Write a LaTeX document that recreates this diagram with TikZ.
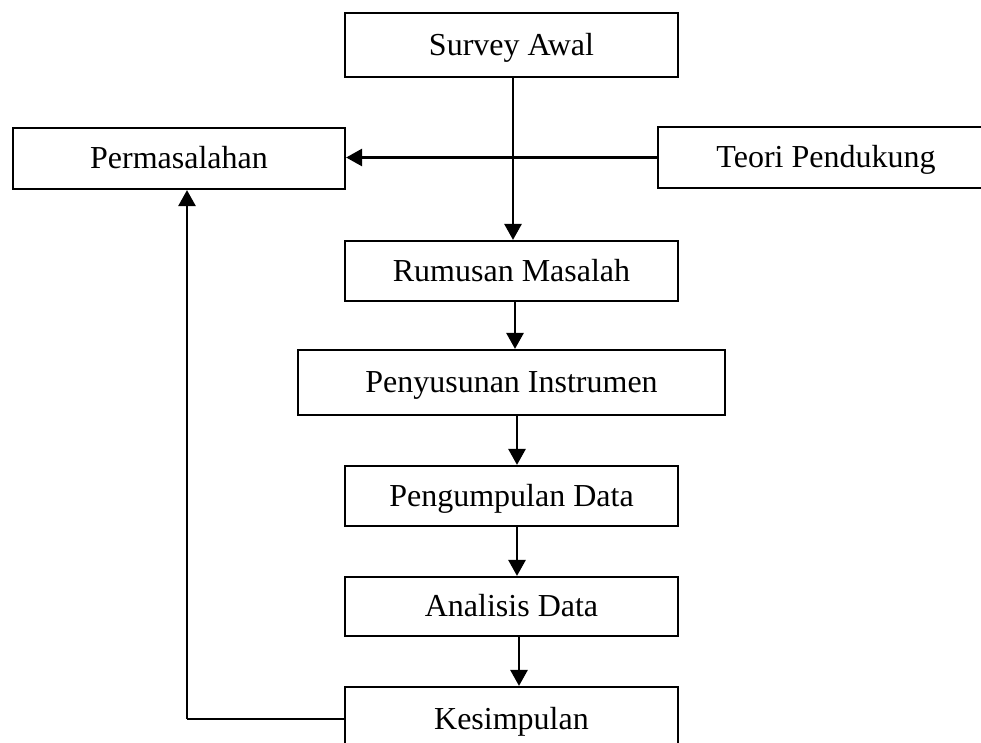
\documentclass[tikz,border=0pt]{standalone}
\usepackage{fontspec}
\setmainfont{Liberation Serif}
\usetikzlibrary{arrows.meta}
\begin{document}
\begin{tikzpicture}[x=1pt,y=-1pt,
  box/.style={draw=black, line width=2.2pt, inner sep=0pt, minimum width=333pt,
    text height=22pt, text depth=2pt,
    font=\fontsize{32}{38}\selectfont, text=black},
  conn/.style={line width=2.8pt, -{Triangle[width=17pt,length=16pt]}},
  plain/.style={line width=2.8pt}]
\useasboundingbox (0,0) rectangle (981,742);
\clip (0,0) rectangle (981,742);
\node[box, minimum height=64pt] (sa) at (511.5,45) {Survey Awal};
\node[box, minimum width=332pt, minimum height=61pt] (perm) at (179,158.5) {Permasalahan};
\node[box, minimum width=336pt, minimum height=61pt] (teori) at (826,157.5) {Teori Pendukung};
\node[box, minimum height=60pt] (rum) at (511.5,271) {Rumusan Masalah};
\node[box, minimum width=427pt, minimum height=65pt] (pen) at (511.5,382.5) {Penyusunan Instrumen};
\node[box, minimum height=60pt] (peng) at (511.5,496) {Pengumpulan Data};
\node[box, minimum height=59pt] (ana) at (511.5,606.5) {Analisis Data};
\node[box, minimum height=64pt] (kes) at (511.5,719) {Kesimpulan};
\draw[conn] (teori.west) -- (teori.west -| perm.east);
\draw[conn] ([xshift=1.5pt]sa.south) -- ([xshift=1.5pt]rum.north);
\draw[conn] ([xshift=3.5pt]rum.south) -- ([xshift=3.5pt]pen.north);
\draw[conn] ([xshift=5.5pt]pen.south) -- ([xshift=5.5pt]peng.north);
\draw[conn] ([xshift=5.5pt]peng.south) -- ([xshift=5.5pt]ana.north);
\draw[conn] ([xshift=7.5pt]ana.south) -- ([xshift=7.5pt]kes.north);
\coordinate (lc) at (187,719);
\draw[plain] (kes.west) -- (lc);
\draw[conn] (lc) -- (lc |- perm.south);
\end{tikzpicture}
\end{document}
